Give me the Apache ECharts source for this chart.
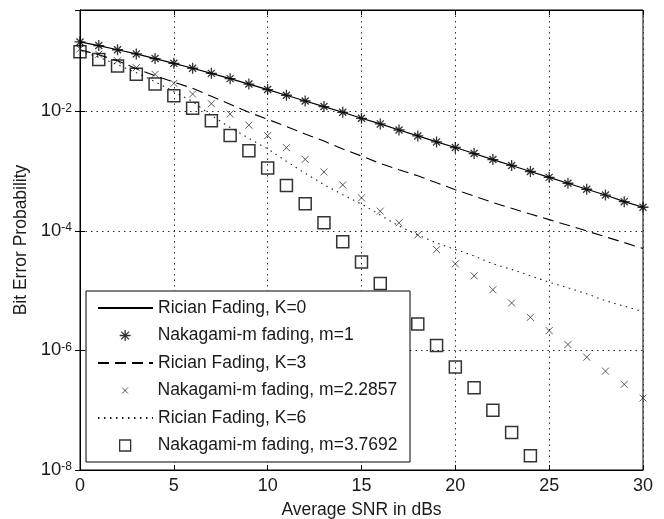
<!DOCTYPE html>
<html>
<head>
<meta charset="utf-8">
<script src="https://cdn.jsdelivr.net/npm/echarts@6/dist/echarts.min.js"></script>
<style>
html,body{margin:0;padding:0;background:#fff;}
#chart{width:664px;height:519px;}
</style>
</head>
<body>
<div id="chart"></div>
<script>
// ---- data ----
var snr = [0,1,2,3,4,5,6,7,8,9,10,11,12,13,14,15,16,17,18,19,20,21,22,23,24,25,26,27,28,29,30];
var xTicks = [0,5,10,15,20,25,30];
var yTickExponents = [-8,-6,-4,-2];

var ricianK0 = [0.146,0.127,0.108,0.092,0.077,0.064,0.053,0.0435,0.0355,0.0288,0.0233,0.0187,0.015,0.0121,0.0097,0.0077,0.0062,0.0049,0.0039,0.0031,0.0025,0.00198,0.00157,0.00125,0.00099,0.00079,0.00063,0.0005,0.0004,0.00031,0.00025];
var nakagamiM1 = [0.146,0.127,0.108,0.092,0.077,0.064,0.053,0.0435,0.0355,0.0288,0.0233,0.0187,0.015,0.0121,0.0097,0.0077,0.0062,0.0049,0.0039,0.0031,0.0025,0.00198,0.00157,0.00125,0.00099,0.00079,0.00063,0.0005,0.0004,0.00031,0.00025];
var ricianK3 = [0.108,0.089,0.0708,0.0521,0.0398,0.031,0.0245,0.018,0.0132,0.0097,0.0074,0.0056,0.0042,0.0032,0.00235,0.0018,0.00135,0.00106,0.00084,0.00064,0.00049,0.000385,0.0003,0.00024,0.000192,0.000155,0.000125,0.0001,0.00008,0.000064,0.000051];
var nakagamiM22857 = [0.112,0.0908,0.0708,0.0541,0.0419,0.0296,0.0196,0.0135,0.00908,0.00591,0.00395,0.00248,0.00158,0.000973,0.000591,0.000359,0.000215,0.000137,0.0000858,0.0000488,0.0000282,0.0000178,0.0000104,0.00000624,0.00000359,0.00000215,0.00000126,0.000000773,0.000000452,0.000000271,0.00000016];
var ricianK6 = [0.104,0.081,0.0607,0.0447,0.0316,0.0215,0.0147,0.00858,0.00541,0.00355,0.00237,0.00147,0.000927,0.000596,0.000406,0.000282,0.000185,0.000121,0.0000858,0.0000631,0.0000492,0.0000383,0.0000282,0.0000228,0.0000178,0.0000139,0.0000112,0.00000891,0.00000681,0.00000552,0.00000447];
var nakagamiM37692 = [0.1,0.0744,0.0578,0.0419,0.029,0.0183,0.01135,0.00703,0.00398,0.00221,0.00113,0.000578,0.000285,0.000137,0.0000664,0.0000304,0.0000132,0.00000607,0.00000279,0.00000121,0.000000527,0.000000239,0.0000001,0.0000000425,0.0000000173];

var names = ['Rician Fading, K=0','Nakagami-m fading, m=1','Rician Fading, K=3','Nakagami-m fading, m=2.2857','Rician Fading, K=6','Nakagami-m fading, m=3.7692'];

function pairs(xs, ys){ return ys.map(function(v,i){ return [xs[i], v]; }); }

var FONT = '"Liberation Sans", Arial, sans-serif';
var TXT = '#1a1a1a';
var starPath = 'path://M5,0L5,10M0,5L10,5M1.8,1.8L8.2,8.2M8.2,1.8L1.8,8.2';
var xPath = 'path://M0,0L10,10M10,0L0,10';
// legend icons: a 55x12 box (invisible corner moves) holding the marker in its middle
var starIcon = 'path://M0,0M55,12M27.5,0.5L27.5,11.5M22,6L33,6M23.6,2.1L31.4,9.9M31.4,2.1L23.6,9.9';
var xIcon = 'path://M0,0M55,12M24.5,3L30.5,9M30.5,3L24.5,9';
var sqIcon = 'path://M0,0M55,12M22,0.5L33,0.5L33,11.5L22,11.5Z';

var chart = echarts.init(document.getElementById('chart'), null, {renderer:'canvas'});

function legendRow(i, icon, bw, stroke){
  var isLine = !icon;
  return {
    data:[icon ? {name:names[i], icon:icon} : {name:names[i]}],
    left:97, top: 298 + i*27.5, orient:'vertical',
    padding:0, itemWidth:55, itemHeight: isLine ? 14 : 12, selectedMode:false,
    itemStyle: isLine ? {opacity:0} : {color:'rgba(255,255,255,0)', borderColor:stroke, borderWidth:bw},
    textStyle:{fontFamily:FONT, fontSize:17.5, color:TXT, lineHeight:20},
    z:5
  };
}

function yLabel(v){
  var l = Math.log10(v), e = Math.round(l);
  if (Math.abs(l-e) > 1e-6 || yTickExponents.indexOf(e) < 0) return '';
  return '{b|10}{s|' + e + '}';
}

var option = {
  backgroundColor:'#fff',
  animation:false,
  grid:{left:80, top:10, right:21, bottom:49, containLabel:false, outerBoundsMode:'none',
        show:true, borderColor:'#000', borderWidth:1, backgroundColor:'#fff'},
  graphic:[{type:'rect', z:3, shape:{x:86, y:291, width:324, height:171}, style:{fill:'#fff', stroke:'#000', lineWidth:1}}],
  legend:[legendRow(0), legendRow(1, starIcon, 1.3, '#000'), legendRow(2), legendRow(3, xIcon, 1, '#333'), legendRow(4), legendRow(5, sqIcon, 1.3, '#000')],
  xAxis:[{
    type:'value', min:0, max:30, interval:5, position:'bottom',
    name:'Average SNR in dBs', nameLocation:'middle', nameGap:31,
    nameTextStyle:{fontFamily:FONT, fontSize:17.5, color:TXT},
    axisLine:{show:true, lineStyle:{color:'#000', width:1}},
    axisTick:{show:true, inside:true, length:5, lineStyle:{color:'#000'}},
    axisLabel:{fontFamily:FONT, fontSize:18, color:TXT, margin:7,
      formatter:function(v){ return xTicks.indexOf(v) >= 0 ? String(v) : ''; }},
    splitLine:{show:true, lineStyle:{color:'#333', width:1, type:[1.5,4]}}
  },{
    type:'value', min:0, max:30, interval:5, position:'top',
    axisLine:{show:true, lineStyle:{color:'#000'}},
    axisTick:{show:true, inside:true, length:5, lineStyle:{color:'#000'}},
    axisLabel:{show:false}, splitLine:{show:false}
  }],
  yAxis:[{
    type:'log', logBase:10, min:1e-8, max:0.5, interval:2, position:'left',
    name:'Bit Error Probability', nameLocation:'middle', nameGap:50, nameRotate:90,
    nameTextStyle:{fontFamily:FONT, fontSize:17.5, color:TXT},
    axisLine:{show:true, lineStyle:{color:'#000'}},
    axisTick:{show:true, inside:true, length:5, lineStyle:{color:'#000'}},
    minorTick:{show:false},
    axisLabel:{margin:8, formatter:yLabel, showMaxLabel:false,
      rich:{
        b:{fontFamily:FONT, fontSize:18.5, color:TXT, lineHeight:18, verticalAlign:'bottom'},
        s:{fontFamily:FONT, fontSize:12, color:TXT, lineHeight:12, verticalAlign:'top', padding:[0,0,10,0]}
      }},
    splitLine:{show:true, lineStyle:{color:'#333', width:1, type:[1.5,4]}}
  },{
    type:'log', logBase:10, min:1e-8, max:0.5, interval:2, position:'right',
    axisLine:{show:true, lineStyle:{color:'#000'}},
    axisTick:{show:true, inside:true, length:5, lineStyle:{color:'#000'}},
    axisLabel:{show:false}, splitLine:{show:false}
  }],
  series:[
    {name:names[0], type:'line', data:pairs(snr, ricianK0), symbol:'none', z:2,
     lineStyle:{color:'#000', width:1.2, type:'solid'}, itemStyle:{color:'#000'}},
    {name:names[1], type:'scatter', data:pairs(snr, nakagamiM1), symbol:starPath, symbolSize:11, z:2,
     itemStyle:{color:'#000', borderColor:'#000', borderWidth:1.3}},
    {name:names[2], type:'line', data:pairs(snr, ricianK3), symbol:'none', z:2,
     lineStyle:{color:'#000', width:1.1, type:[11,6]}, itemStyle:{color:'#000'}},
    {name:names[3], type:'scatter', data:pairs(snr, nakagamiM22857), symbol:xPath, symbolSize:7, z:2,
     itemStyle:{color:'#333', borderColor:'#333', borderWidth:1}},
    {name:names[4], type:'line', data:pairs(snr, ricianK6), symbol:'none', z:2,
     lineStyle:{color:'#222', width:1.1, type:[1.5,4.5]}, itemStyle:{color:'#222'}},
    {name:names[5], type:'scatter', data:pairs(snr.slice(0, nakagamiM37692.length), nakagamiM37692), symbol:'rect', symbolSize:12, z:2,
     itemStyle:{color:'rgba(255,255,255,0)', borderColor:'#000', borderWidth:1.5}}
  ]
};
chart.setOption(option);
</script>
</body>
</html>
